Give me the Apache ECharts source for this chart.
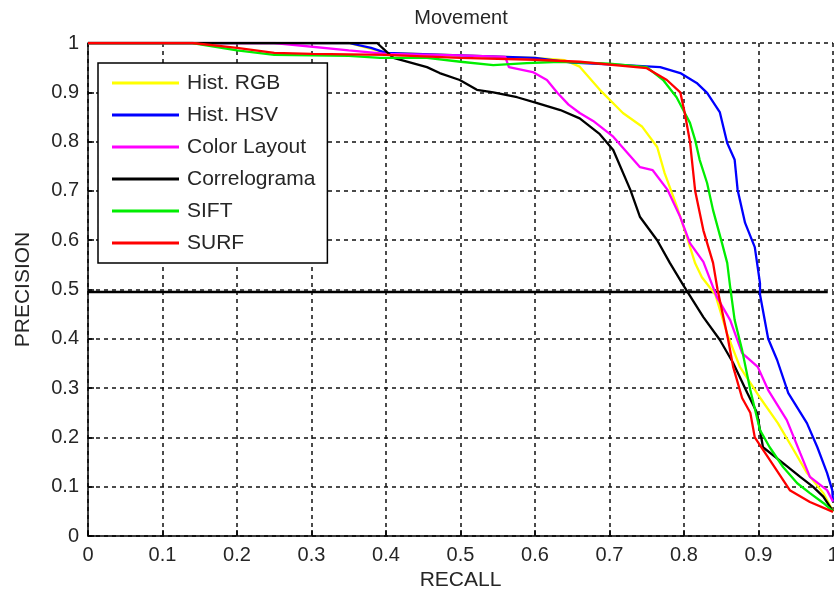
<!DOCTYPE html>
<html>
<head>
<meta charset="utf-8">
<script src="https://cdn.jsdelivr.net/npm/echarts@6/dist/echarts.min.js"></script>
<style>
html,body{margin:0;padding:0;background:#fff;overflow:hidden;}
#chart{width:834px;height:599px;}
</style>
</head>
<body>
<div id="chart"></div>
<script>
// ---- data (recall, precision) ----
const seriesNames = ['Hist. RGB', 'Hist. HSV', 'Color Layout', 'Correlograma', 'SIFT', 'SURF'];
const xTicks = [0, 0.1, 0.2, 0.3, 0.4, 0.5, 0.6, 0.7, 0.8, 0.9, 1];
const yTicks = [0, 0.1, 0.2, 0.3, 0.4, 0.5, 0.6, 0.7, 0.8, 0.9, 1];

const histRGB = [[0,1],[0.35,1],[0.4,0.98],[0.5,0.975],[0.6,0.97],[0.64,0.965],[0.66,0.952],[0.687,0.905],[0.718,0.858],[0.744,0.83],[0.764,0.789],[0.774,0.736],[0.79,0.67],[0.804,0.606],[0.815,0.553],[0.824,0.525],[0.842,0.49],[0.858,0.41],[0.875,0.343],[0.9,0.285],[0.926,0.229],[0.945,0.18],[0.965,0.128],[0.987,0.087],[1,0.05]];
const histHSV = [[0,1],[0.35,1],[0.38,0.99],[0.4,0.98],[0.5,0.975],[0.6,0.97],[0.65,0.96],[0.72,0.955],[0.768,0.951],[0.795,0.939],[0.817,0.919],[0.831,0.899],[0.848,0.86],[0.858,0.797],[0.868,0.763],[0.872,0.702],[0.882,0.635],[0.895,0.586],[0.902,0.513],[0.902,0.49],[0.913,0.40],[0.925,0.357],[0.94,0.29],[0.965,0.229],[0.979,0.18],[0.992,0.128],[0.999,0.093],[1,0.07]];
const colorLayout = [[0,1],[0.25,1],[0.35,0.985],[0.4,0.978],[0.5,0.975],[0.56,0.972],[0.565,0.951],[0.597,0.941],[0.616,0.925],[0.63,0.899],[0.645,0.875],[0.66,0.858],[0.678,0.842],[0.705,0.81],[0.741,0.748],[0.758,0.742],[0.778,0.702],[0.795,0.647],[0.808,0.594],[0.826,0.556],[0.844,0.485],[0.862,0.438],[0.878,0.371],[0.899,0.343],[0.913,0.296],[0.938,0.235],[0.956,0.168],[0.969,0.12],[0.992,0.093],[1,0.07]];
const correlograma = [[0,1],[0.388,1],[0.401,0.982],[0.41,0.97],[0.455,0.951],[0.472,0.939],[0.499,0.925],[0.522,0.905],[0.544,0.9],[0.576,0.89],[0.603,0.878],[0.634,0.864],[0.66,0.847],[0.687,0.815],[0.705,0.783],[0.728,0.702],[0.741,0.647],[0.764,0.6],[0.781,0.554],[0.799,0.509],[0.826,0.444],[0.848,0.398],[0.866,0.351],[0.885,0.29],[0.898,0.25],[0.906,0.18],[0.933,0.148],[0.956,0.12],[0.973,0.1],[0.987,0.08],[1,0.05]];
const sift = [[0,1],[0.14,1],[0.2,0.985],[0.25,0.976],[0.35,0.974],[0.392,0.97],[0.455,0.97],[0.5,0.962],[0.544,0.955],[0.589,0.959],[0.634,0.962],[0.7,0.958],[0.75,0.951],[0.772,0.925],[0.79,0.89],[0.799,0.864],[0.808,0.838],[0.815,0.803],[0.821,0.763],[0.831,0.716],[0.839,0.661],[0.851,0.594],[0.858,0.554],[0.862,0.505],[0.868,0.438],[0.878,0.377],[0.889,0.296],[0.902,0.215],[0.915,0.18],[0.933,0.14],[0.952,0.107],[0.969,0.087],[0.987,0.067],[1,0.05]];
const surf = [[0,1],[0.14,1],[0.2,0.99],[0.25,0.98],[0.3,0.978],[0.4,0.976],[0.5,0.97],[0.6,0.966],[0.66,0.962],[0.75,0.949],[0.777,0.925],[0.795,0.9],[0.801,0.858],[0.808,0.8],[0.815,0.7],[0.826,0.62],[0.839,0.554],[0.845,0.5],[0.859,0.4],[0.866,0.343],[0.878,0.28],[0.889,0.25],[0.895,0.2],[0.918,0.148],[0.942,0.093],[0.969,0.069],[1,0.049]];
const thresholdLine = [[0,0.495],[0.993,0.495]];

const seriesData = [histRGB, histHSV, colorLayout, correlograma, sift, surf];
const seriesColors = ['#ffff00', '#0000ff', '#ff00ff', '#000000', '#00ee00', '#ff0000'];

const FONT = '"Liberation Sans", Arial, sans-serif';
const txt = '#262626';

const chart = echarts.init(document.getElementById('chart'), null, {renderer: 'canvas'});

const series = seriesData.map((d, i) => ({
  name: seriesNames[i],
  type: 'line',
  data: d,
  showSymbol: false,
  symbol: 'none',
  lineStyle: {color: seriesColors[i], width: 2.3},
  itemStyle: {color: seriesColors[i]},
  animation: false,
  z: 3 + i
}));
series.push({
  name: 'threshold',
  type: 'line',
  data: thresholdLine,
  symbol: 'none',
  lineStyle: {color: '#000', width: 2.5},
  animation: false,
  z: 2
});

chart.setOption({
  animation: false,
  backgroundColor: '#fff',
  title: {
    text: 'Movement',
    left: 456, top: 3, textAlign: 'center',
    textStyle: {fontFamily: FONT, fontSize: 20, fontWeight: 'normal', color: txt}
  },
  grid: {left: 88, right: 1, top: 43, bottom: 63, containLabel: false, outerBoundsMode: 'none'},
  legend: {
    data: seriesNames,
    orient: 'vertical',
    left: 98, top: 63,
    backgroundColor: '#fff',
    borderColor: '#000', borderWidth: 1.5,
    padding: [9, 12, 9, 14],
    itemGap: 10,
    itemWidth: 67, itemHeight: 3,
    icon: 'rect',
    textStyle: {fontFamily: FONT, fontSize: 21, color: txt, lineHeight: 22, padding: [0,0,0,3]}
  },
  xAxis: {
    type: 'value', min: 0, max: 1, interval: 0.1,
    name: 'RECALL', nameLocation: 'middle', nameGap: 34,
    nameTextStyle: {fontFamily: FONT, fontSize: 21, color: txt},
    axisLine: {lineStyle: {color: '#000', width: 1.5}},
    axisTick: {inside: true, length: 6, lineStyle: {color: '#000', width: 1.5}},
    axisLabel: {fontFamily: FONT, fontSize: 20, color: txt, margin: 9,
      formatter: v => { const t = xTicks.find(k => Math.abs(k - v) < 1e-6); return t === undefined ? '' : String(t); }},
    splitLine: {show: true, lineStyle: {color: '#111', width: 1.5, type: [4, 4]}}
  },
  yAxis: {
    type: 'value', min: 0, max: 1, interval: 0.1,
    name: 'PRECISION', nameLocation: 'middle', nameGap: 54, nameRotate: 90,
    nameTextStyle: {fontFamily: FONT, fontSize: 21, color: txt},
    axisLine: {lineStyle: {color: '#000', width: 1.5}},
    axisTick: {inside: true, length: 6, lineStyle: {color: '#000', width: 1.5}},
    axisLabel: {fontFamily: FONT, fontSize: 20, color: txt, margin: 9,
      formatter: v => { const t = yTicks.find(k => Math.abs(k - v) < 1e-6); return t === undefined ? '' : String(t); }},
    splitLine: {show: true, lineStyle: {color: '#111', width: 1.5, type: [4, 4]}}
  },
  series: series
});
</script>
</body>
</html>
